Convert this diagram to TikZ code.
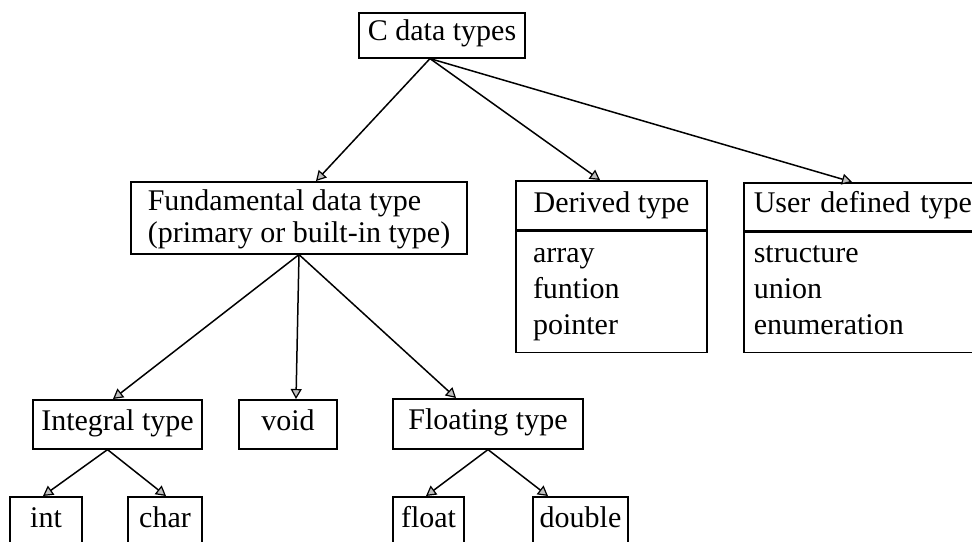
\documentclass[tikz,border=0pt]{standalone}
\usepackage{fontspec}
\setmainfont{Liberation Serif}
\usetikzlibrary{arrows.meta}
\begin{document}
\begin{tikzpicture}[x=1pt,y=-1pt,
  box/.style={draw, line width=1.6pt, inner xsep=0pt, inner ysep=0pt,
              font=\fontsize{30}{36}\selectfont},
  link/.style={line width=1.5pt,
               -{Triangle[length=10pt,width=11pt,fill=gray!50,line width=1.2pt]}}]
\useasboundingbox[fill=white] (0,0) rectangle (972,541);

% root
\node[box, anchor=north, minimum width=166pt, text height=28pt, text depth=17pt]
  (c) at (442,12) {C data types};

% second level
\node[box, anchor=north, minimum width=336pt, align=left,
      font=\fontsize{30}{32}\selectfont, text height=61pt, text depth=11pt]
  (fund) at (299,181) {Fundamental data type\\(primary or built-in type)};

\node[box, anchor=north, minimum width=191pt, text height=32pt, text depth=17pt]
  (der) at (611.5,180) {Derived type};
\node[box, anchor=north, text width=157pt, inner xsep=17pt, align=left,
      text height=31pt, text depth=90pt]
  (derl) at (der.south) {array\\funtion\\pointer};

\node[box, anchor=north west, text width=240pt, inner xsep=10pt, align=left,
      text height=30pt, text depth=18pt]
  (usr) at (743,182) {User defined type};
\node[box, anchor=north west, text width=240pt, inner xsep=10pt, align=left,
      text height=30pt, text depth=90pt]
  (usrl) at (usr.south west) {structure\\union\\enumeration};

% third level
\node[box, anchor=north, minimum width=169pt, text height=31pt, text depth=18pt]
  (integ) at (117.5,399) {Integral type};
\node[box, anchor=north, minimum width=98pt, text height=31pt, text depth=18pt]
  (vd) at (288,399) {void};
\node[box, anchor=north, minimum width=190pt, text height=31pt, text depth=19pt]
  (flt) at (488,398) {Floating type};

% leaves
\node[box, anchor=north, minimum width=72pt, text height=31pt, text depth=20pt]
  (nint) at (46,496) {int};
\node[box, anchor=north, minimum width=74pt, text height=31pt, text depth=20pt]
  (nchar) at (165,496) {char};
\node[box, anchor=north, minimum width=71pt, text height=31pt, text depth=20pt]
  (nfloat) at (428.5,496) {float};
\node[box, anchor=north, minimum width=95pt, text height=31pt, text depth=20pt]
  (ndouble) at (580.5,496) {double};

% connectors
\draw[link] ([xshift=-12pt]c.south) -- ([xshift=17pt]fund.north);
\draw[link] ([xshift=-12pt]c.south) -- ([xshift=-11.5pt]der.north);
\draw[link] ([xshift=-12pt]c.south) -- ([xshift=109pt]usr.north west);
\draw[link] (fund.south) -- ([xshift=-4.5pt]integ.north);
\draw[link] (fund.south) -- ([xshift=8pt]vd.north);
\draw[link] (fund.south) -- ([xshift=-32pt]flt.north);
\draw[link] ([xshift=-10pt]integ.south) -- ([xshift=-3pt]nint.north);
\draw[link] ([xshift=-10pt]integ.south) -- ([xshift=1pt]nchar.north);
\draw[link] (flt.south) -- ([xshift=-2.5pt]nfloat.north);
\draw[link] (flt.south) -- ([xshift=-32.5pt]ndouble.north);
\end{tikzpicture}
\end{document}
